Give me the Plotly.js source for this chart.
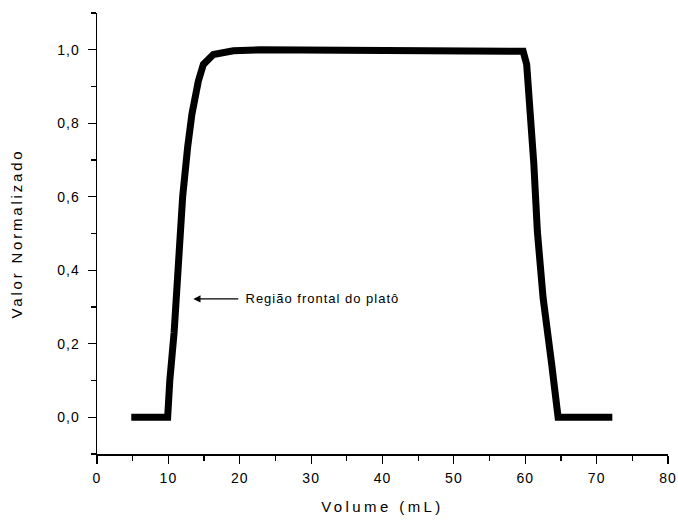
<!DOCTYPE html>
<html>
<head>
<meta charset="utf-8">
<script src="https://cdn.plot.ly/plotly-3.0.1.min.js"></script>
<style>
html,body{margin:0;padding:0;background:#fff;}
#chart{width:678px;height:520px;}
#chart .xtitle{letter-spacing:3.4px !important;}
#chart .ytitle{letter-spacing:2.8px !important;}
#chart .xtick text, #chart .ytick text{letter-spacing:1px !important;}
#chart .annotation-text{letter-spacing:1px !important;}
</style>
</head>
<body>
<div id="chart"></div>
<script>
const volume = [4.8, 9.9, 10.2, 10.8, 11.4, 12.0, 12.7, 13.3, 14.2, 14.9, 16.3, 19.1, 22.8, 58.3, 59.7, 60.2, 60.6, 61.2, 61.7, 62.5, 63.7, 64.6, 72.2];
const valor = [0, 0, 0.1, 0.23, 0.415, 0.6, 0.735, 0.825, 0.915, 0.96, 0.987, 0.997, 1.0, 1.0, 0.996, 0.96, 0.87, 0.69, 0.505, 0.325, 0.145, 0, 0];
const annotText = 'Região frontal do platô';
const arrowHead = [13.5, 0.322];
const arrowTail = [20.0, 0.322];
const textStart = 22.1;

const font = 'Liberation Sans, Arial, sans-serif';
const trace = {
  x: volume, y: valor, type: 'scatter', mode: 'lines',
  line: {color: '#000', width: 7, shape: 'linear'},
  hoverinfo: 'skip', showlegend: false
};
const axisCommon = {
  showgrid: false, zeroline: false, showline: true, linecolor: '#000', linewidth: 1.5,
  ticks: 'outside', ticklen: 8, tickwidth: 1.2, tickcolor: '#000',
  tickfont: {family: font, size: 14, color: '#000'}
};
const layout = {
  width: 678, height: 520,
  margin: {l: 97, r: 10, t: 13, b: 66},
  paper_bgcolor: '#fff', plot_bgcolor: '#fff',
  separators: ',.',
  font: {family: font, color: '#000'},
  xaxis: Object.assign({}, axisCommon, {
    range: [0, 80], dtick: 10, tick0: 0, ticklabelstandoff: 3,
    minor: {dtick: 5, tick0: 0, ticks: 'outside', ticklen: 5, tickwidth: 1.2, tickcolor: '#000', showgrid: false},
    title: {text: 'Volume (mL)', font: {family: font, size: 15, color: '#000'}, standoff: 16}
  }),
  yaxis: Object.assign({}, axisCommon, {
    range: [-0.1, 1.1], dtick: 0.2, tick0: 0, tickformat: '.1f', ticklabelstandoff: 5,
    minor: {dtick: 0.1, tick0: 0, ticks: 'outside', ticklen: 5, tickwidth: 1.2, tickcolor: '#000', showgrid: false},
    title: {text: 'Valor Normalizado', font: {family: font, size: 15, color: '#000'}, standoff: 34}
  }),
  annotations: [
    {x: arrowHead[0], y: arrowHead[1], ax: arrowTail[0], ay: arrowTail[1], axref: 'x', ayref: 'y',
     xref: 'x', yref: 'y', text: '', showarrow: true, arrowhead: 2, arrowsize: 1.1, arrowwidth: 1.3, arrowcolor: '#000'},
    {x: textStart, y: arrowTail[1], xref: 'x', yref: 'y', text: annotText, showarrow: false,
     xanchor: 'left', yanchor: 'middle', font: {family: font, size: 13, color: '#000'}}
  ]
};
Plotly.newPlot('chart', [trace], layout, {staticPlot: true, displayModeBar: false});
</script>
</body>
</html>
